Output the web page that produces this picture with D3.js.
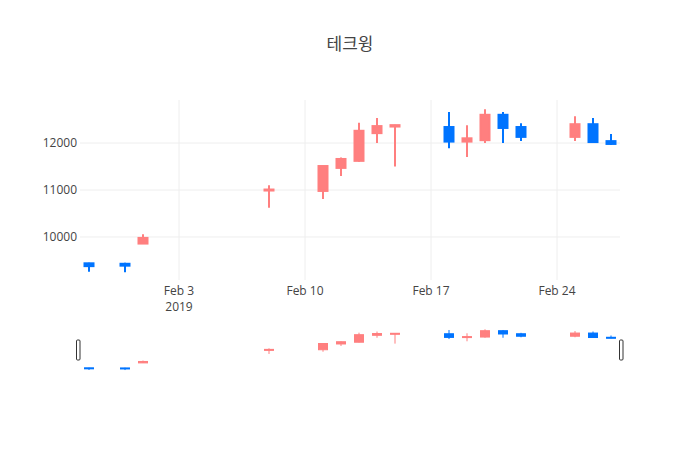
<!DOCTYPE html>
<html>
<head>
<meta charset="utf-8">
<script src="https://cdn.jsdelivr.net/npm/d3@7"></script>
<style>
  body { margin: 0; background: #fff; }
  text { font-family: "Open Sans", "Noto Sans CJK KR", sans-serif; }
</style>
</head>
<body>
<div id="chart"></div>
<script>
// candle data
const dates = ["2019-01-29", "2019-01-31", "2019-02-01", "2019-02-08", "2019-02-11", "2019-02-12",
  "2019-02-13", "2019-02-14", "2019-02-15", "2019-02-18", "2019-02-19", "2019-02-20",
  "2019-02-21", "2019-02-22", "2019-02-25", "2019-02-26", "2019-02-27"];
const open  = [9440, 9430, 9860, 10990, 10980, 11470, 11620, 12210, 12350, 12340, 12030, 12060, 12600, 12340, 12130, 12400, 12040];
const high  = [9450, 9450, 10060, 11100, 11510, 11690, 12430, 12530, 12390, 12660, 12380, 12720, 12660, 12420, 12570, 12530, 12190];
const low   = [9260, 9250, 9850, 10620, 10810, 11300, 11600, 12000, 11500, 11890, 11700, 12000, 12000, 12040, 12040, 12000, 11960];
const close = [9380, 9390, 9980, 11010, 11510, 11660, 12260, 12360, 12380, 12030, 12100, 12600, 12320, 12130, 12400, 12020, 11980];
const yTicks = [10000, 11000, 12000];

const W = 700, H = 450;
const margin = { left: 80, right: 80 };
const upColor = "#ff7f7f", downColor = "#0074ff";

const parse = d3.timeParse("%Y-%m-%d");
const data = dates.map((d, i) => ({ t: parse(d), o: open[i], h: high[i], l: low[i], c: close[i] }));

const svg = d3.select("#chart").append("svg").attr("width", W).attr("height", H);

const x = d3.scaleTime()
  .domain([d3.timeHour.offset(data[0].t, -12), d3.timeHour.offset(data[data.length - 1].t, 12)])
  .range([margin.left, W - margin.right]);
const yDom = [9085, 12915];
const y = d3.scaleLinear().domain(yDom).range([280, 100]);
const ys = d3.scaleLinear().domain(yDom).range([372, 327]);

// grid
const xTicks = [parse("2019-02-03"), parse("2019-02-10"), parse("2019-02-17"), parse("2019-02-24")];
svg.append("g").selectAll("line").data(xTicks).join("line")
  .attr("x1", d => x(d)).attr("x2", d => x(d)).attr("y1", 100).attr("y2", 280)
  .attr("stroke", "#eee");
svg.append("g").selectAll("line").data(yTicks).join("line")
  .attr("x1", margin.left).attr("x2", W - margin.right).attr("y1", d => y(d)).attr("y2", d => y(d))
  .attr("stroke", "#eee");

// axis labels
const fmt = d3.timeFormat("%b %-d");
svg.append("g").selectAll("text").data(xTicks).join("text")
  .attr("x", d => x(d)).attr("y", 295).attr("text-anchor", "middle")
  .attr("font-size", 12).attr("fill", "#444").text(d => fmt(d));
svg.append("text").attr("x", x(xTicks[0])).attr("y", 311).attr("text-anchor", "middle")
  .attr("font-size", 12).attr("fill", "#444").text("2019");
svg.append("g").selectAll("text").data(yTicks).join("text")
  .attr("x", margin.left - 3).attr("y", d => y(d) + 4).attr("text-anchor", "end")
  .attr("font-size", 12).attr("fill", "#444").text(d => d);

function candles(g, yy, bw, lw) {
  const c = g.selectAll("g").data(data).join("g")
    .attr("fill", d => d.c >= d.o ? upColor : downColor)
    .attr("stroke", d => d.c >= d.o ? upColor : downColor);
  c.append("line")
    .attr("x1", d => x(d.t)).attr("x2", d => x(d.t))
    .attr("y1", d => yy(d.h)).attr("y2", d => yy(d.l)).attr("stroke-width", lw);
  c.append("rect")
    .attr("x", d => x(d.t) - bw / 2).attr("width", bw)
    .attr("y", d => yy(Math.max(d.o, d.c)))
    .attr("height", d => Math.max(1, Math.abs(yy(d.o) - yy(d.c))))
    .attr("stroke-width", lw);
}
candles(svg.append("g"), y, 9, 2);
candles(svg.append("g"), ys, 9, 1);

// range slider handles
[margin.left - 2, W - margin.right + 1].forEach(hx => {
  svg.append("rect").attr("x", hx - 1.5).attr("y", 340).attr("width", 3.5).attr("height", 20)
    .attr("rx", 1).attr("fill", "#fff").attr("stroke", "#333").attr("stroke-width", 1);
});

svg.append("text").attr("x", W / 2).attr("y", 50).attr("text-anchor", "middle")
  .attr("font-size", 17).attr("fill", "#444").text("테크윙");
</script>
</body>
</html>
